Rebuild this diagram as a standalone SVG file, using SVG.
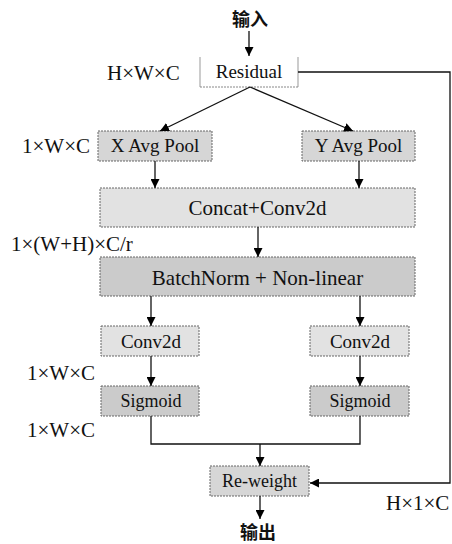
<svg xmlns="http://www.w3.org/2000/svg" width="452" height="544" viewBox="0 0 452 544">
<defs>
<marker id="ah" viewBox="0 0 10 10" refX="10" refY="5" markerWidth="9" markerHeight="9" markerUnits="userSpaceOnUse" orient="auto">
<path d="M0,0 L10,5 L0,10 z" fill="#000"/>
</marker>
<style>
.t{font-family:"Liberation Serif","Times New Roman",serif;fill:#111;text-anchor:middle}
.lb{font-family:"Liberation Serif","Times New Roman",serif;fill:#111;font-size:21px}
.cn{font-family:"Noto Sans CJK SC",sans-serif;font-weight:bold;font-size:18px;fill:#111;text-anchor:middle}
.box{stroke:#666;stroke-width:1;stroke-dasharray:2 1}
.l1{fill:#e2e2e2}
.l2{fill:#d6d6d6}
.l3{fill:#cbcbcb}
.c{fill:none;stroke:#111;stroke-width:1.3}
</style>
</defs>
<rect width="452" height="544" fill="#fff"/>

<g id="labels">
<text class="cn" x="250" y="26">输入</text>
<text class="lb" x="107" y="80">H×W×C</text>
<text class="lb" x="22" y="153">1×W×C</text>
<text class="lb" x="11" y="251">1×(W+H)×C/r</text>
<text class="lb" x="27" y="380">1×W×C</text>
<text class="lb" x="27" y="437">1×W×C</text>
<text class="lb" x="386" y="510">H×1×C</text>
<text class="cn" x="258" y="539">输出</text>
</g>

<g id="residual">
<rect x="200" y="57" width="98" height="30" fill="#fff"/>
<path d="M200,57 V87 M298,57 V87" stroke="#999" stroke-width="1" fill="none"/>
<path d="M200,87 H298" stroke="#888" stroke-width="1" stroke-dasharray="2 1" fill="none"/>
<text class="t" x="249" y="78" font-size="19">Residual</text>
</g>

<g id="xpool">
<rect class="box l2" x="98" y="131" width="114" height="30"/>
<text class="t" x="155" y="152" font-size="19">X Avg Pool</text>
</g>
<g id="ypool">
<rect class="box l2" x="302" y="131" width="113" height="30"/>
<text class="t" x="358.5" y="152" font-size="19">Y Avg Pool</text>
</g>

<g id="concat">
<rect class="box l1" x="100" y="188" width="315" height="39"/>
<text class="t" x="257.5" y="215" font-size="21">Concat+Conv2d</text>
</g>

<g id="batchnorm">
<rect class="box l3" x="100" y="257" width="315" height="39"/>
<text class="t" x="257.5" y="285" font-size="21">BatchNorm + Non-linear</text>
</g>

<g id="conv-left">
<rect class="box l1" x="101" y="326" width="98" height="30"/>
<text class="t" x="151" y="348" font-size="19">Conv2d</text>
</g>
<g id="conv-right">
<rect class="box l1" x="310" y="326" width="99" height="30"/>
<text class="t" x="360" y="348" font-size="19">Conv2d</text>
</g>

<g id="sigmoid-left">
<rect class="box l3" x="101" y="386" width="98" height="30"/>
<text class="t" x="151" y="407" font-size="18">Sigmoid</text>
</g>
<g id="sigmoid-right">
<rect class="box l3" x="310" y="386" width="99" height="30"/>
<text class="t" x="360" y="407" font-size="18">Sigmoid</text>
</g>

<g id="reweight">
<rect class="box l2" x="210" y="466" width="99" height="30"/>
<text class="t" x="259.5" y="487" font-size="18">Re-weight</text>
</g>

<g id="connectors">
<path class="c" d="M249,31 V56" marker-end="url(#ah)"/>
<path class="c" d="M250,87 L160,131" marker-end="url(#ah)"/>
<path class="c" d="M250,87 L353,131" marker-end="url(#ah)"/>
<path class="c" d="M155,161 V188" marker-end="url(#ah)"/>
<path class="c" d="M359,161 V188" marker-end="url(#ah)"/>
<path class="c" d="M258,227 V257" marker-end="url(#ah)"/>
<path class="c" d="M151,296 V326" marker-end="url(#ah)"/>
<path class="c" d="M360,296 V326" marker-end="url(#ah)"/>
<path class="c" d="M151,356 V386" marker-end="url(#ah)"/>
<path class="c" d="M360,356 V386" marker-end="url(#ah)"/>
<path class="c" d="M151,416 V444 H360 V416"/>
<path class="c" d="M260,444 V466" marker-end="url(#ah)"/>
<path class="c" d="M260,496 V519" marker-end="url(#ah)"/>
<path class="c" d="M298,72 H450 V483 H310" marker-end="url(#ah)"/>
</g>
</svg>
